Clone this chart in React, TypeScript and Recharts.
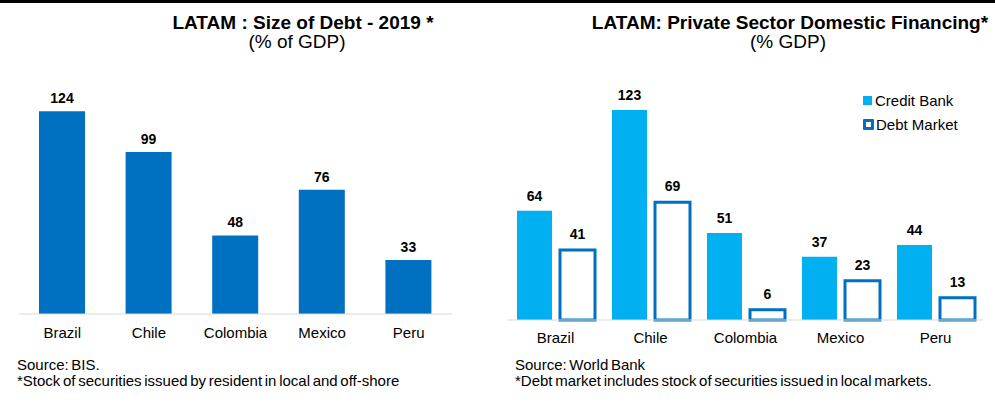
import { Bar, BarChart, LabelList, XAxis, YAxis } from "recharts"

const countries = ["Brazil", "Chile", "Colombia", "Mexico", "Peru"]
const debtSize = [124, 99, 48, 76, 33]
const creditBank = [64, 123, 51, 37, 44]
const debtMarket = [41, 69, 6, 23, 13]

const FONT = "'Liberation Sans', Arial, sans-serif"
const DARK_BLUE = "#0070C0"
const LIGHT_BLUE = "#00B0F0"

const leftData = countries.map((c, i) => ({ country: c, debt: debtSize[i] }))
const rightData = countries.map((c, i) => ({ country: c, credit: creditBank[i], market: debtMarket[i] }))

const tickStyle = { fontSize: 15, fill: "#000", fontFamily: FONT }
const labelStyle = { fontSize: 14, fontWeight: 700, fill: "#000", fontFamily: FONT }

function Title({ center, top, bold, children }: { center: number; top: number; bold?: boolean; children: string }) {
  return (
    <div
      style={{
        position: "absolute",
        left: center - 300,
        width: 600,
        top,
        textAlign: "center",
        fontSize: 19,
        lineHeight: "19px",
        fontWeight: bold ? 700 : 400,
        whiteSpace: "nowrap",
      }}
    >
      {children}
    </div>
  )
}

function Note({ left, lines }: { left: number; lines: string[] }) {
  return (
    <div
      style={{
        position: "absolute",
        left,
        top: 357,
        fontSize: 15,
        lineHeight: "16px",
        wordSpacing: -1.5,
        whiteSpace: "nowrap",
      }}
    >
      {lines.map((l) => (
        <div key={l}>{l}</div>
      ))}
    </div>
  )
}

// legend of the right chart, placed over the plot like the original
function LegendBox() {
  const row = { display: "flex", alignItems: "center", height: 24, fontSize: 15, fontFamily: FONT, color: "#000" }
  return (
    <div style={{ position: "absolute", left: 863, top: 88 }}>
      <div style={row}>
        <span style={{ width: 9, height: 9, background: LIGHT_BLUE, marginRight: 3 }} />
        Credit Bank
      </div>
      <div style={row}>
        <span
          style={{ width: 5, height: 5, border: `3px solid ${DARK_BLUE}`, background: "#fff", marginRight: 2, borderRadius: 1 }}
        />
        Debt Market
      </div>
    </div>
  )
}

export default function App() {
  return (
    <div style={{ position: "relative", width: 995, height: 412, background: "#fff", fontFamily: FONT, color: "#000", overflow: "hidden" }}>
      <style>{`body{margin:0}`}</style>
      <div style={{ position: "absolute", left: 0, top: 0, width: 995, height: 3, background: "#000" }} />

      <Title center={303} top={13} bold>LATAM : Size of Debt - 2019 *</Title>
      <Title center={297} top={32}>(% of GDP)</Title>
      <Title center={790} top={13} bold>LATAM: Private Sector Domestic Financing*</Title>
      <Title center={788} top={32}>(% GDP)</Title>

      <div style={{ position: "absolute", left: 0, top: 0 }}>
        <BarChart width={470} height={412} data={leftData} margin={{ top: 85, right: 18, left: 19, bottom: 68 }}>
          <XAxis
            dataKey="country"
            height={30}
            tick={tickStyle}
            tickLine={false}
            tickMargin={7}
            axisLine={{ stroke: "#D9D9D9", strokeWidth: 1 }}
          />
          <YAxis hide domain={[0, 140]} />
          <Bar dataKey="debt" fill={DARK_BLUE} barSize={46} isAnimationActive={false}>
            <LabelList dataKey="debt" position="top" offset={8} style={labelStyle} />
          </Bar>
        </BarChart>
      </div>

      <div style={{ position: "absolute", left: 500, top: 0 }}>
        <BarChart
          width={495}
          height={412}
          data={rightData}
          margin={{ top: 81, right: 12, left: 8, bottom: 62 }}
          barGap={8}
        >
          <XAxis
            dataKey="country"
            height={30}
            tick={tickStyle}
            tickLine={false}
            tickMargin={6}
            axisLine={{ stroke: "#D9D9D9", strokeWidth: 1 }}
          />
          <YAxis hide domain={[0, 140]} />
          <Bar dataKey="credit" name="Credit Bank" fill={LIGHT_BLUE} barSize={35} isAnimationActive={false}>
            <LabelList dataKey="credit" position="top" offset={10} style={labelStyle} />
          </Bar>
          <Bar
            dataKey="market"
            name="Debt Market"
            fill="#fff"
            stroke={DARK_BLUE}
            strokeWidth={3}
            barSize={35}
            isAnimationActive={false}
          >
            <LabelList dataKey="market" position="top" offset={11} style={labelStyle} />
          </Bar>
        </BarChart>
      </div>
      <LegendBox />

      <Note left={17} lines={["Source: BIS.", "*Stock of securities issued by resident in local and off-shore"]} />
      <Note left={515} lines={["Source: World Bank", "*Debt market includes stock of securities issued in local markets."]} />
    </div>
  )
}
